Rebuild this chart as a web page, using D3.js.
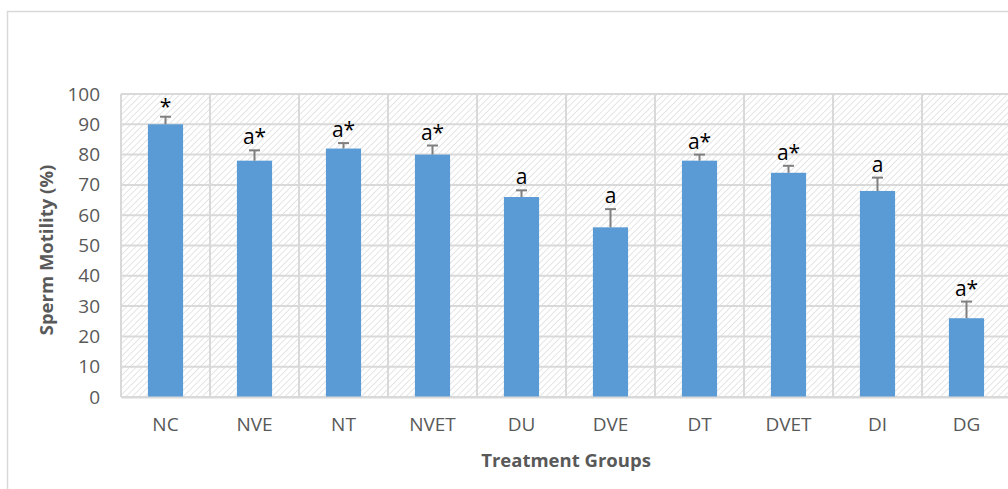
<!DOCTYPE html>
<html>
<head>
<meta charset="utf-8">
<script src="https://cdn.jsdelivr.net/npm/d3@7"></script>
<style>
  html, body { margin: 0; padding: 0; background: #fff; overflow: hidden; }
  svg { display: block; font-family: "Open Sans", "Noto Sans", sans-serif; }
</style>
</head>
<body>
<svg id="chart" width="1008" height="489"></svg>
<script>
// Sperm motility by treatment group (mean with upper error bar)
const groups = ["NC", "NVE", "NT", "NVET", "DU", "DVE", "DT", "DVET", "DI", "DG"];
const motility = [90, 78, 82, 80, 66, 56, 78, 74, 68, 26];
const errorUp = [2.5, 3.4, 1.8, 3, 2.2, 6, 2, 2.3, 4.4, 5.5];
const marks = ["*", "a*", "a*", "a*", "a", "a", "a*", "a*", "a", "a*"];
const yTicks = [0, 10, 20, 30, 40, 50, 60, 70, 80, 90, 100];

const svg = d3.select("#chart");
const plot = { left: 121, top: 94, right: 1011, bottom: 397 };

// outer chart frame
svg.append("rect")
  .attr("x", 7.5).attr("y", 11.5).attr("width", 1020).attr("height", 500)
  .attr("fill", "#fff").attr("stroke", "#d9d9d9").attr("stroke-width", 1.5);

// diagonal hatch for the plot background
const defs = svg.append("defs");
const pat = defs.append("pattern")
  .attr("id", "hatch").attr("patternUnits", "userSpaceOnUse")
  .attr("width", 4.5).attr("height", 4.5)
  .attr("patternTransform", "rotate(-45)");
pat.append("rect").attr("width", 4.5).attr("height", 4.5).attr("fill", "#fff");
pat.append("line").attr("x1", 0).attr("y1", 0).attr("x2", 4.5).attr("y2", 0)
  .attr("stroke", "#dcdcdc").attr("stroke-width", 1.5);

const x = d3.scaleBand().domain(groups).range([plot.left, plot.right]).paddingInner(0).paddingOuter(0);
const y = d3.scaleLinear().domain([0, 100]).range([plot.bottom, plot.top]);
const barW = x.bandwidth() * 0.395;

svg.append("rect")
  .attr("x", plot.left).attr("y", plot.top)
  .attr("width", plot.right - plot.left).attr("height", plot.bottom - plot.top)
  .attr("fill", "url(#hatch)");

// gridlines
const grid = svg.append("g").attr("stroke", "#d9d9d9").attr("stroke-width", 2);
grid.selectAll("line.h").data(yTicks).join("line")
  .attr("x1", plot.left).attr("x2", plot.right)
  .attr("y1", d => y(d)).attr("y2", d => y(d));
const bounds = groups.map(g => x(g)).concat([plot.right]);
grid.selectAll("line.v").data(bounds).join("line")
  .attr("x1", d => d).attr("x2", d => d)
  .attr("y1", plot.top).attr("y2", plot.bottom);

// bars
svg.append("g").selectAll("rect").data(groups).join("rect")
  .attr("x", g => x(g) + x.bandwidth() / 2 - barW / 2)
  .attr("y", (g, i) => y(motility[i]))
  .attr("width", barW)
  .attr("height", (g, i) => y(0) - y(motility[i]))
  .attr("fill", "#5b9bd5");

// error bars (upper)
const eb = svg.append("g").attr("stroke", "#7f7f7f").attr("stroke-width", 2);
groups.forEach((g, i) => {
  const cx = x(g) + x.bandwidth() / 2;
  eb.append("line").attr("x1", cx).attr("x2", cx)
    .attr("y1", y(motility[i])).attr("y2", y(motility[i] + errorUp[i]));
  eb.append("line").attr("x1", cx - 5.5).attr("x2", cx + 5.5)
    .attr("y1", y(motility[i] + errorUp[i])).attr("y2", y(motility[i] + errorUp[i]));
});

// significance marks
svg.append("g").selectAll("text").data(groups).join("text")
  .attr("x", g => x(g) + x.bandwidth() / 2)
  .attr("y", (g, i) => y(motility[i] + errorUp[i]) - (marks[i] === "*" ? 3 : 6))
  .attr("text-anchor", "middle")
  .attr("font-size", 21).attr("fill", "#000")
  .text((g, i) => marks[i]);

// y axis labels
const yAxis = d3.axisLeft(y).tickValues(yTicks).tickSize(0).tickPadding(21);
svg.append("g").attr("transform", `translate(${plot.left},0)`).call(yAxis)
  .call(s => s.select(".domain").remove())
  .selectAll("text").attr("font-size", 19).attr("fill", "#595959")
  .attr("font-family", "'Open Sans', sans-serif");

// x axis labels
const xAxis = d3.axisBottom(x).tickSize(0).tickPadding(21);
svg.append("g").attr("transform", `translate(0,${plot.bottom})`).call(xAxis)
  .call(s => s.select(".domain").attr("stroke", "#d9d9d9").attr("stroke-width", 2))
  .selectAll("text").attr("font-size", 19).attr("fill", "#595959")
  .attr("font-family", "'Open Sans', sans-serif");

// axis titles
svg.append("text")
  .attr("x", 566).attr("y", 467)
  .attr("text-anchor", "middle").attr("font-size", 18.5).attr("font-weight", "bold")
  .attr("fill", "#595959").text("Treatment Groups");
svg.append("text")
  .attr("transform", "translate(53,250) rotate(-90)")
  .attr("text-anchor", "middle").attr("font-size", 18.5).attr("font-weight", "bold")
  .attr("fill", "#595959").text("Sperm Motility (%)");
</script>
</body>
</html>
